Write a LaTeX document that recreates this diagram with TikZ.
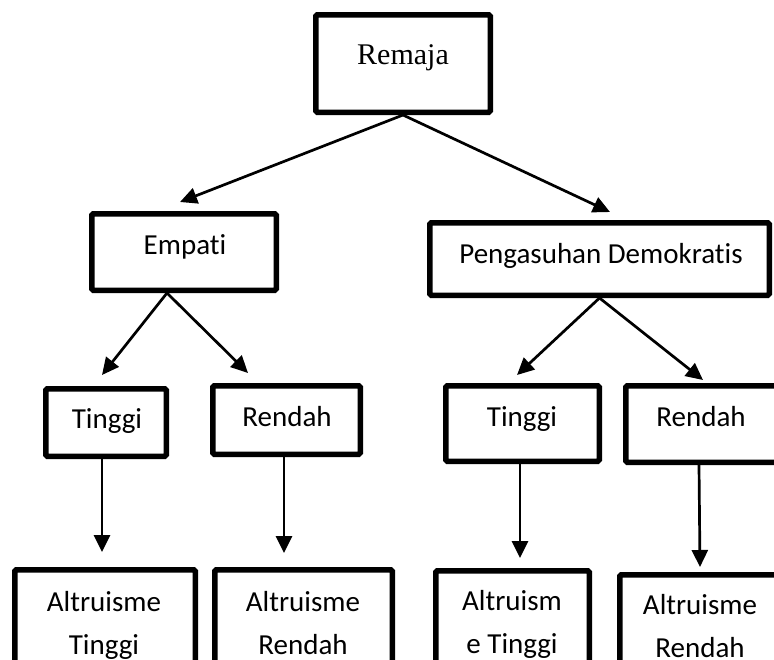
\documentclass[tikz,border=0pt]{standalone}
\usepackage{fontspec}
\setmainfont[RawFeature=-liga]{Carlito}
\newfontfamily\serifrm{Liberation Serif}
\usetikzlibrary{arrows.meta,calc}
\tikzset{
  box/.style={draw, line width=5.5pt, rounded corners=1.5pt, inner sep=0pt, fill=white},
  lbl/.style={font=\fontsize{29}{43}\selectfont, inner sep=0pt, anchor=base, align=center},
  conn/.style={line width=2.7pt, -{Triangle[length=17pt,width=16pt]}}
}
\begin{document}
\begin{tikzpicture}[x=1pt,y=-1pt]
\useasboundingbox (0,0) rectangle (774,659);
\fill[white] (0,0) rectangle (774,659);
\begin{scope}
\clip (0,0) rectangle (774,659);
% boxes
\node[box, minimum width=174.5pt, minimum height=97.5pt] (remaja) at (403,63.5) {};
\node[box, minimum width=184.5pt, minimum height=76.5pt] (empati) at (184,252) {};
\node[box, minimum width=339.5pt, minimum height=72.5pt] (peng) at (599.5,259) {};
\node[box, minimum width=120.5pt, minimum height=67.5pt] (t1) at (106,422.5) {};
\node[box, minimum width=147.5pt, minimum height=68.5pt] (r1) at (286.5,420) {};
\node[box, minimum width=153.5pt, minimum height=75.5pt] (t2) at (522.5,423.5) {};
\node[box, minimum width=161.5pt, minimum height=76.5pt] (r2) at (706.5,424) {};
\node[box, minimum width=180.5pt, minimum height=127.5pt] (a1) at (105,633.5) {};
\node[box, minimum width=177.5pt, minimum height=127.5pt] (a2) at (303.5,633.5) {};
\node[box, minimum width=153.5pt, minimum height=126.5pt] (a3) at (512.5,634) {};
\node[box, minimum width=167.5pt, minimum height=122.5pt] (a4) at (703.5,636) {};
% labels
\node[lbl, font=\fontsize{30}{36}\selectfont\serifrm] (tremaja) at (403,64) {Remaja};
\node[lbl] (tempati) at (185,254) {Empati};
\node[lbl] (tpeng) at (601,263) {Pengasuhan Demokratis};
\node[lbl] (tt1) at (107,428) {Tinggi};
\node[lbl] (tr1) at (287,426) {Rendah};
\node[lbl] (tt2) at (522,426) {Tinggi};
\node[lbl] (tr2) at (701,426) {Rendah};
\node[lbl] (ta1) at (104,654) {Altruisme\\Tinggi};
\node[lbl] (ta2) at (303,654) {Altruisme\\Rendah};
\node[lbl] (ta3) at (512,653) {Altruism\\e Tinggi};
\node[lbl] (ta4) at (700,657) {Altruisme\\Rendah};
% arrow tips
\coordinate (e1) at (180,202);
\coordinate (e2) at (610,212);
\coordinate (e3) at (102,375);
\coordinate (e4) at (248,373);
\coordinate (e5) at (517,375);
\coordinate (e6) at (703,380);
\coordinate (e7) at (102,552);
\coordinate (e8) at (284,553);
\coordinate (e9) at (520,558);
\coordinate (e10) at (700,567);
% connectors
\draw[conn] (remaja.south) -- (e1);
\draw[conn] (remaja.south) -- (e2);
\draw[conn] ([xshift=-17pt]empati.south) -- (e3);
\draw[conn] ([xshift=-17pt]empati.south) -- (e4);
\draw[conn] (peng.south) -- (e5);
\draw[conn] (peng.south) -- (e6);
\draw[conn] ([xshift=-4pt]t1.south) -- (e7);
\draw[conn] ([xshift=-2.5pt]r1.south) -- (e8);
\draw[conn] ([xshift=-2.5pt]t2.south) -- (e9);
\draw[conn] ([xshift=-7.5pt]r2.south) -- (e10);
\end{scope}
\end{tikzpicture}
\end{document}
